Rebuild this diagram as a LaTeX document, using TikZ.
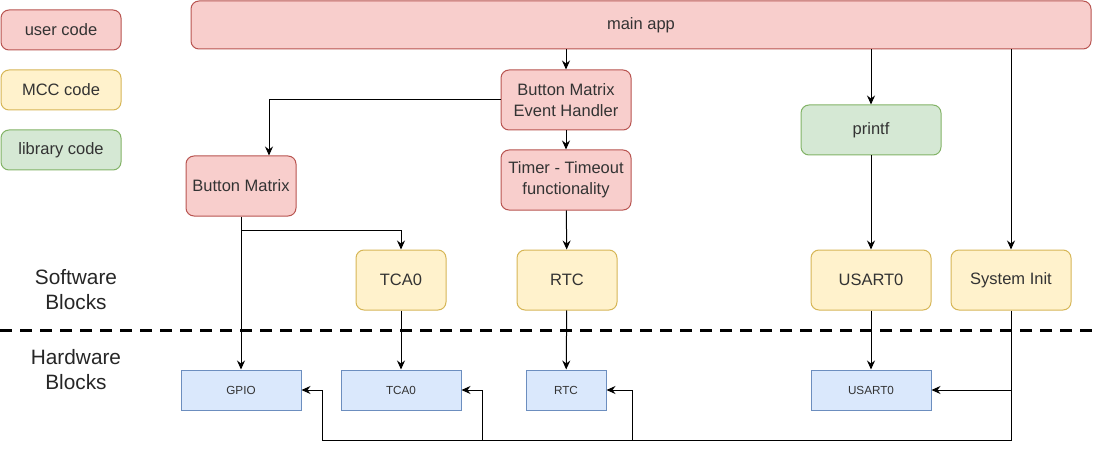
\documentclass[tikz,border=0pt]{standalone}
\usepackage{fontspec}
\setmainfont{Liberation Sans}
\usetikzlibrary{arrows.meta}

% === Colours (user / MCC / library / hardware) ===
\definecolor{usrfill}{HTML}{F8CECC}
\definecolor{usrline}{HTML}{B85450}
\definecolor{mccfill}{HTML}{FFF2CC}
\definecolor{mccline}{HTML}{D6B656}
\definecolor{libfill}{HTML}{D5E8D4}
\definecolor{libline}{HTML}{82B366}
\definecolor{hwfill}{HTML}{DAE8FC}
\definecolor{hwline}{HTML}{6C8EBF}

\tikzset{
  block/.style={draw, rounded corners=8pt, line width=1pt, inner sep=0pt,
    align=center, text=black!80, font=\fontsize{16.5}{21}\selectfont},
  usrblock/.style={block, fill=usrfill, draw=usrline},
  mccblock/.style={block, fill=mccfill, draw=mccline},
  libblock/.style={block, fill=libfill, draw=libline},
  hwblock/.style={draw=hwline, fill=hwfill, line width=1pt, inner sep=0pt,
    text=black!80, font=\fontsize{11.7}{14}\selectfont,
    minimum height=40pt},
  layerlbl/.style={align=center, text=black!85, font=\fontsize{20.8}{25}\selectfont},
  conn/.style={line width=1pt, -{Stealth[length=9pt,width=8pt,inset=3pt]}},
  wire/.style={line width=1pt}
}

\begin{document}
\begin{tikzpicture}[x=1pt,y=-1pt]
\useasboundingbox (0,0) rectangle (1094,449);

% === Legend ===
\node[usrblock, minimum width=120pt, minimum height=40pt] (leguser) at (61,30) {user code};
\node[mccblock, minimum width=120pt, minimum height=40pt] (legmcc) at (61,90) {MCC code};
\node[libblock, minimum width=120pt, minimum height=40pt] (leglib) at (61,150) {library code};

% === Software blocks ===
\node[usrblock, minimum width=900pt, minimum height=48pt] (mainapp) at (641,25) {main app};
\node[usrblock, minimum width=130pt, minimum height=60pt] (evhandler) at (566,100) {Button Matrix\\Event Handler};
\node[usrblock, minimum width=130pt, minimum height=60pt] (timeout) at (566,180) {Timer - Timeout\\functionality};
\node[usrblock, minimum width=110pt, minimum height=60pt] (btnmatrix) at (241,186) {Button Matrix};
\node[libblock, minimum width=140pt, minimum height=50pt] (printf) at (871,130) {printf};

\node[mccblock, minimum width=90pt, minimum height=60pt] (tcasw) at (401,280) {TCA0};
\node[mccblock, minimum width=100pt, minimum height=60pt] (rtcsw) at (567,280) {RTC};
\node[mccblock, minimum width=120pt, minimum height=60pt] (usartsw) at (871,280) {USART0};
\node[mccblock, minimum width=120pt, minimum height=60pt] (sysinit) at (1011,280) {System Init};

% === Layer split ===
\node[layerlbl] (swlbl) at (76,290) {Software\\Blocks};
\node[layerlbl] (hwlbl) at (76,370) {Hardware\\Blocks};
\draw[line width=3pt, dash pattern=on 12pt off 8pt] (0,330) -- (1094,330);

% === Hardware blocks ===
\node[hwblock, minimum width=120pt] (gpio) at (241,390) {GPIO};
\node[hwblock, minimum width=120pt] (tcahw) at (401,390) {TCA0};
\node[hwblock, minimum width=80pt] (rtchw) at (566,390) {RTC};
\node[hwblock, minimum width=120pt] (usarthw) at (871,390) {USART0};

% === Calls from main app ===
\draw[conn] (evhandler.north |- mainapp.south) -- (evhandler.north);
\draw[conn] (printf.north |- mainapp.south) -- (printf.north);
\draw[conn] (sysinit.north |- mainapp.south) -- (sysinit.north);

% === User code chain ===
\draw[conn] (evhandler.west) -| ([xshift=28pt]btnmatrix.north);
\draw[conn] (evhandler) -- (timeout);
\draw[conn] (timeout) -- (rtcsw);
\coordinate (bmsplit) at ([yshift=-14pt]btnmatrix.south);
\draw[conn] (btnmatrix.south) -- (gpio.north);
\draw[conn] (bmsplit) -| (tcasw.north);
\draw[conn] (printf) -- (usartsw);

% === Drivers to peripherals ===
\draw[conn] (tcasw) -- (tcahw);
\draw[conn] (rtcsw) -- (rtchw);
\draw[conn] (usartsw) -- (usarthw);

% === System init bus ===
\coordinate (busleft) at (322,440);
\coordinate (busright) at (sysinit.south |- busleft);
\coordinate (bustca) at (482,440);
\coordinate (busrtc) at (632,440);
\draw[wire] (sysinit.south) -- (busright) -- (busleft);
\draw[conn] (busleft) |- (gpio.east);
\draw[conn] (bustca) |- (tcahw.east);
\draw[conn] (busrtc) |- (rtchw.east);
\draw[conn] (sysinit.south |- usarthw.east) -- (usarthw.east);

\end{tikzpicture}
\end{document}
